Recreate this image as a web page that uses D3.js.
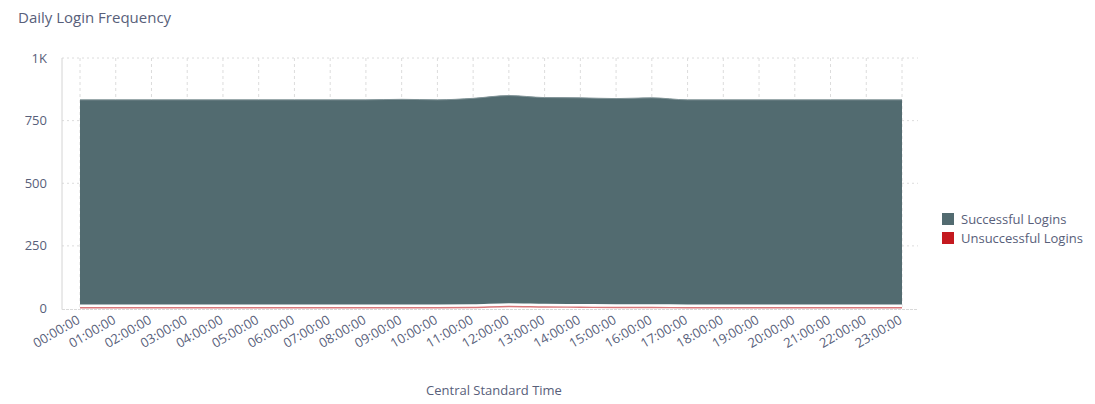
<!DOCTYPE html>
<html><head><meta charset="utf-8">
<script src="https://cdnjs.cloudflare.com/ajax/libs/d3/7.8.5/d3.min.js"></script>
<style>
body{margin:0;background:#fff;font-family:"Open Sans",sans-serif;}
svg text{font-family:"Open Sans",sans-serif;}
</style></head><body>
<svg id="c" width="1095" height="404"></svg>
<script>
const hours = ["00:00:00","01:00:00","02:00:00","03:00:00","04:00:00","05:00:00","06:00:00","07:00:00","08:00:00","09:00:00","10:00:00","11:00:00","12:00:00","13:00:00","14:00:00","15:00:00","16:00:00","17:00:00","18:00:00","19:00:00","20:00:00","21:00:00","22:00:00","23:00:00"];
const successful = [830,830,830,830,830,830,830,830,830,832,830,835,842,836,836,834,837,830,830,830,830,830,830,830];
const unsuccessful = [3,3,3,3,3,3,3,3,3,3,3,4,8,6,5,4,4,3,3,3,3,3,3,3];
const yTicks = [0,250,500,750,1000];
const seriesNames = ["Successful Logins","Unsuccessful Logins"];
const seriesColors = ["#526b70","#c4191f"];

const svg = d3.select("#c");
const textCol = "#58607a";
const L=62, R=918, T=58, B=308.5;
const x = d3.scalePoint().domain(hours).range([80,902]);
const y = d3.scaleLinear().domain([0,1000]).range([B,T]);

svg.append("text").attr("x",18).attr("y",23).attr("font-size",15).attr("fill",textCol).text("Daily Login Frequency");

// grid
svg.append("g").selectAll("line").data(yTicks.filter(d=>d>0)).join("line")
  .attr("x1",L).attr("x2",R).attr("y1",d=>y(d)).attr("y2",d=>y(d))
  .attr("stroke","#dcdcdc").attr("stroke-dasharray","2,3");
svg.append("g").selectAll("line").data(hours).join("line")
  .attr("x1",d=>x(d)).attr("x2",d=>x(d)).attr("y1",T).attr("y2",B)
  .attr("stroke","#dcdcdc").attr("stroke-dasharray","3,3");

// stacked data
const rows = hours.map((h,i)=>({h, u:unsuccessful[i], s:successful[i]}));
const stack = d3.stack().keys(["u","s"])(rows);
const area = d3.area().x(d=>x(d.data.h)).y0(d=>y(d[0])).y1(d=>y(d[1])).curve(d3.curveMonotoneX);
const line1 = d3.line().x(d=>x(d.data.h)).y(d=>y(d[1])).curve(d3.curveMonotoneX);

// unsuccessful
svg.append("path").datum(stack[0]).attr("d",area).attr("fill",seriesColors[1]).attr("fill-opacity",0.08);
// successful
svg.append("path").datum(stack[1]).attr("d",area).attr("fill",seriesColors[0]);
svg.append("path").datum(stack[1]).attr("d",line1).attr("fill","none").attr("stroke","#7f9296").attr("stroke-width",1);
// gap between series
svg.append("path").datum(stack[0]).attr("d",line1).attr("fill","none").attr("stroke","#fff").attr("stroke-width",6.5);
svg.append("path").datum(stack[0]).attr("d",line1).attr("fill","none").attr("stroke","#d9777a").attr("stroke-width",1.3);

// axes lines
svg.append("line").attr("x1",L).attr("x2",L).attr("y1",T).attr("y2",B+1).attr("stroke","#d4d4d4");
svg.append("line").attr("x1",L).attr("x2",R).attr("y1",B+1).attr("y2",B+1).attr("stroke","#d9d9d9").attr("stroke-dasharray","3,1");

// y labels
svg.append("g").selectAll("text").data(yTicks).join("text")
  .attr("x",47).attr("y",d=>y(d)+4.5).attr("text-anchor","end").attr("font-size",13).attr("fill",textCol)
  .text(d=>d>=1000? (d/1000)+"K" : d);

// x labels
svg.append("g").selectAll("text").data(hours).join("text")
  .attr("text-anchor","end").attr("font-size",13).attr("fill",textCol)
  .attr("transform",d=>`translate(${x(d)+1},${B+14}) rotate(-30)`)
  .text(d=>d);

svg.append("text").attr("x",(L+R)/2 + 4).attr("y",395).attr("text-anchor","middle").attr("font-size",13).attr("fill",textCol).text("Central Standard Time");

// legend
const lg = svg.append("g").selectAll("g").data(seriesNames).join("g")
  .attr("transform",(d,i)=>`translate(942,${213+i*19})`);
lg.append("rect").attr("width",12).attr("height",12).attr("fill",(d,i)=>seriesColors[i]);
lg.append("text").attr("x",19).attr("y",11).attr("font-size",13).attr("fill",textCol).text(d=>d);
</script>
</body></html>
